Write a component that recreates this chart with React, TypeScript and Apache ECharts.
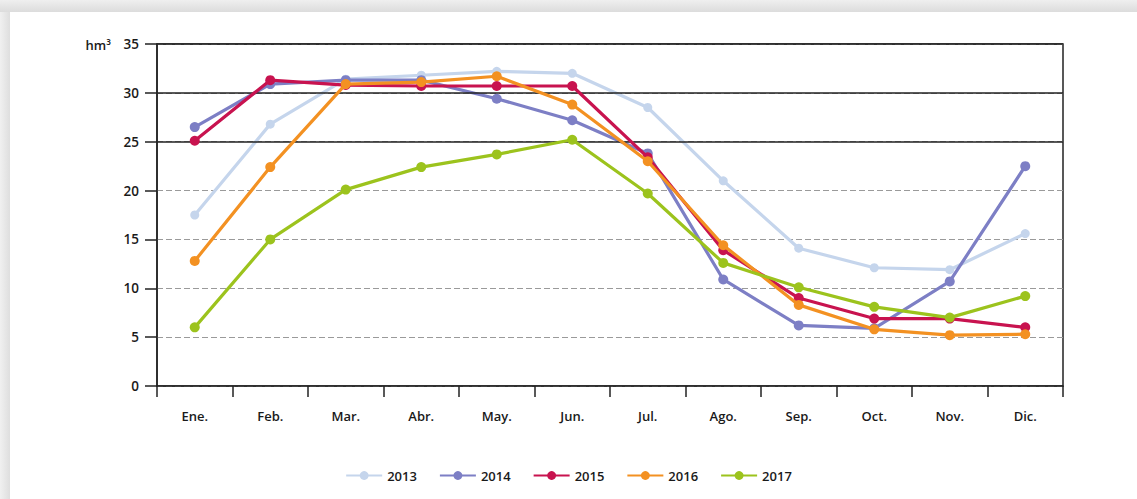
import React, { useEffect, useRef } from "react";
import * as echarts from "echarts";

const months = ["Ene.", "Feb.", "Mar.", "Abr.", "May.", "Jun.", "Jul.", "Ago.", "Sep.", "Oct.", "Nov.", "Dic."];
const years = ["2013", "2014", "2015", "2016", "2017"];
const v2013 = [17.5, 26.8, 31.4, 31.8, 32.2, 32.0, 28.5, 21.0, 14.1, 12.1, 11.9, 15.6];
const v2014 = [26.5, 30.9, 31.3, 31.3, 29.4, 27.2, 23.8, 10.9, 6.2, 5.9, 10.7, 22.5];
const v2015 = [25.1, 31.3, 30.8, 30.7, 30.7, 30.7, 23.4, 13.9, 9.0, 6.9, 6.9, 6.0];
const v2016 = [12.8, 22.4, 30.9, 31.1, 31.7, 28.8, 23.0, 14.4, 8.3, 5.8, 5.2, 5.3];
const v2017 = [6.0, 15.0, 20.1, 22.4, 23.7, 25.2, 19.7, 12.6, 10.1, 8.1, 7.0, 9.2];
const solidLevels = [25, 30, 35];
const yTicks = { min: 0, max: 35, interval: 5 };

const colors = ["#c5d5ec", "#7d7fc5", "#c8134f", "#f39122", "#9cc31d"];
const seriesValues = [v2013, v2014, v2015, v2016, v2017];

export default function App() {
  const ref = useRef<HTMLDivElement>(null);
  useEffect(() => {
    if (!ref.current) return;
    const chart = echarts.init(ref.current, null, { renderer: "svg" });
    const font = "'Open Sans', 'Noto Sans', sans-serif";
    const txt = "#1a1a1a";
    chart.setOption({
      animation: false,
      backgroundColor: "#ffffff",
      textStyle: { fontFamily: font },
      graphic: [
        {
          type: "rect",
          z: -10,
          shape: { x: 0, y: 0, width: 1137, height: 12 },
          style: {
            fill: new echarts.graphic.LinearGradient(0, 0, 0, 1, [
              { offset: 0, color: "#efefef" },
              { offset: 1, color: "#dcdcdc" },
            ]),
          },
        },
        {
          type: "rect",
          z: -10,
          shape: { x: 0, y: 12, width: 10, height: 487 },
          style: {
            fill: new echarts.graphic.LinearGradient(0, 0, 1, 0, [
              { offset: 0, color: "#f0f0f0" },
              { offset: 1, color: "#dedede" },
            ]),
          },
        },
        {
          type: "text",
          x: 111,
          y: 45,
          style: {
            text: "hm³",
            fontSize: 13,
            fontWeight: 600,
            fontFamily: font,
            fill: txt,
            align: "right",
            verticalAlign: "middle",
          },
        },
      ],
      grid: {
        left: 157,
        right: 74,
        top: 44,
        bottom: 113,
        show: true,
        borderColor: "#222",
        borderWidth: 1.5,
      },
      legend: {
        bottom: 12,
        left: "center",
        data: years,
        itemWidth: 36,
        itemHeight: 11,
        itemGap: 22,
        textStyle: { fontSize: 13, fontWeight: 600, color: txt, fontFamily: font },
      },
      xAxis: {
        type: "category",
        data: months,
        boundaryGap: true,
        axisLine: { lineStyle: { color: "#222", width: 1.5 } },
        axisTick: { show: true, length: 11, inside: false, lineStyle: { color: "#222", width: 1.5 } },
        axisLabel: { margin: 23, fontSize: 13, fontWeight: 600, color: txt, fontFamily: font },
        splitLine: { show: false },
      },
      yAxis: {
        type: "value",
        min: yTicks.min,
        max: yTicks.max,
        interval: yTicks.interval,
        axisLine: { show: true, lineStyle: { color: "#222", width: 1.5 } },
        axisTick: { show: true, length: 12, lineStyle: { color: "#222", width: 1.5 } },
        axisLabel: { margin: 18, fontSize: 13.5, fontWeight: 600, color: txt, fontFamily: font },
        splitLine: { show: true, lineStyle: { color: "#9a9a9a", width: 1, type: [6, 3] } },
      },
      series: [
        {
          name: "grid-solid",
          type: "line",
          data: [],
          silent: true,
          z: 1,
          markLine: {
            silent: true,
            symbol: "none",
            label: { show: false },
            lineStyle: { color: "#222", width: 1.5, type: "solid" },
            data: solidLevels.map((v) => ({ yAxis: v })),
          },
        },
        ...years.map((y, i) => ({
          name: y,
          type: "line",
          data: seriesValues[i],
          symbol: "circle",
          symbolSize: i === 0 ? 9 : 10,
          color: colors[i],
          lineStyle: { color: colors[i], width: 3.2 },
          itemStyle: { color: colors[i] },
          z: 3 + i,
        })),
      ],
    });
    return () => chart.dispose();
  }, []);
  return <div ref={ref} style={{ position: "fixed", left: 0, top: 0, width: 1137, height: 499 }} />;
}
